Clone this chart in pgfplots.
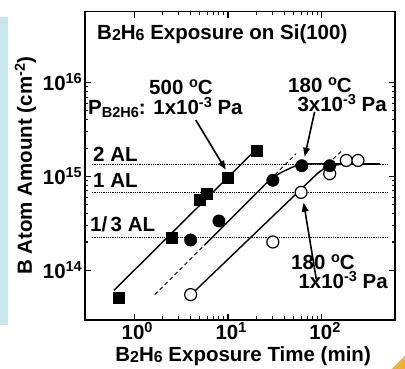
\documentclass[border=0pt]{standalone}
\usepackage{fontspec}
\setmainfont{Liberation Sans}
\usepackage{pgfplots}
\pgfplotsset{compat=1.18}
\usetikzlibrary{arrows.meta}
\newcommand{\bigf}{\fontsize{20.5}{24}\selectfont\bfseries}
\newcommand{\sups}[1]{\raisebox{7pt}{\fontsize{14.5}{14}\selectfont\bfseries #1}}
\newcommand{\subs}[1]{\raisebox{-1pt}{\fontsize{16}{15}\selectfont\bfseries #1}}
\newcommand{\psubs}[1]{\raisebox{-2.5pt}{\fontsize{14.5}{14}\selectfont\bfseries #1}}
\definecolor{stripblue}{RGB}{200,230,236}
\definecolor{cornerorange}{RGB}{245,176,49}
\begin{document}
\begin{tikzpicture}[font=\bigf]
\useasboundingbox (-85pt,-49pt) rectangle (320pt,320pt);
\fill[stripblue] (-85pt,-5pt) rectangle (-77pt,303pt);
\fill[cornerorange] (320pt,-36pt) -- (320pt,-49pt) -- (307pt,-49pt) -- cycle;
\begin{axis}[
  at={(0pt,0pt)}, anchor=south west,
  scale only axis, width=310pt, height=308.3pt,
  xmode=log, ymode=log,
  xmin=0.3, xmax=600, ymin=2.95e13, ymax=5.7e16,
  xtick={1,10,100}, xticklabels={10\sups{0},10\sups{1},10\sups{2}},
  ytick={1e14,1e15,1e16}, yticklabels={10\sups{14},10\sups{15},10\sups{16}},
  xtick pos=both, ytick pos=both,
  xticklabel pos=lower, yticklabel pos=left,
  tick align=inside,
  major tick length=6pt, minor tick length=3.5pt,
  every tick/.style={line width=1.1pt, black},
  axis line style={line width=1.5pt},
  tick label style={font=\bigf},
  xticklabel style={anchor=base, yshift=-20pt, xshift=3pt, inner sep=0pt},
  yticklabel style={anchor=base east, xshift=-3pt, yshift=-8pt, inner sep=0pt},
  label style={font=\bigf},
  xlabel={B\subs{2}H\subs{6} Exposure Time (min)},
  ylabel={B Atom Amount (cm\sups{-2})},
  xlabel style={at={(axis description cs:0.51,-0.136)}, anchor=base},
  ylabel style={at={(axis description cs:-0.171,0.5)}, anchor=base},
]
% monolayer reference lines
\addplot[black, line width=0.8pt, densely dotted] coordinates {(0.355,1.356e15) (500,1.356e15)};
\addplot[black, line width=0.8pt, densely dotted] coordinates {(0.355,6.78e14) (500,6.78e14)};
\addplot[black, line width=0.8pt, densely dotted] coordinates {(0.355,2.26e14) (500,2.26e14)};
% fit lines
\addplot[black, line width=1.4pt] coordinates {(0.61,6.1e13) (20,1.95e15)};
\addplot[black, line width=0.9pt, dash pattern=on 4pt off 3pt] coordinates {(1.66,5.5e13) (5.6,1.85e14)};
\addplot[black, line width=1.4pt] coordinates {(5.6,1.85e14) (28,9.24e14)};
\addplot[black, line width=1.4pt, smooth] coordinates {(28,9.24e14) (33,1.03e15) (38,1.12e15) (44,1.2e15) (50,1.27e15) (57,1.32e15) (65,1.35e15) (75,1.36e15) (100,1.36e15)};
\addplot[black, line width=1.4pt] coordinates {(100,1.36e15) (420,1.36e15)};
\addplot[black, line width=0.9pt, dash pattern=on 4pt off 3pt] coordinates {(28,9.24e14) (53,1.75e15)};
\addplot[black, line width=1.4pt] coordinates {(4.2,5.7e13) (90,1.08e15)};
\addplot[black, line width=1.4pt, smooth] coordinates {(90,1.08e15) (105,1.2e15) (120,1.27e15) (140,1.32e15) (165,1.35e15) (200,1.36e15) (240,1.36e15)};
\addplot[black, line width=0.9pt, dash pattern=on 4pt off 3pt] coordinates {(90,1.08e15) (160,1.84e15)};
% arrows
\draw[black, line width=1.6pt, -{Triangle[length=9pt,width=6.5pt]}] (axis cs:4.53,4.0e15) -- (axis cs:9.45,1.18e15);
\draw[black, line width=1.6pt, -{Triangle[length=9pt,width=6.5pt]}] (axis cs:83.6,4.88e15) -- (axis cs:65.5,1.62e15);
\draw[black, line width=1.6pt, -{Triangle[length=9pt,width=6.5pt]}] (axis cs:87.2,7.96e13) -- (axis cs:63.9,5.25e14);
% data
\addplot[only marks, mark=*, mark size=6pt, mark options={draw=black, fill=white, line width=1.2pt}] coordinates {
 (4.0,5.5e13) (30,2.0e14) (60,6.76e14) (121,1.07e15) (182,1.48e15) (242,1.48e15)};
\addplot[only marks, mark=*, mark size=6.2pt, mark options={draw=black, fill=black}] coordinates {
 (4.0,2.1e14) (8.0,3.35e14) (30,9.1e14) (61,1.3e15) (121,1.3e15)};
\addplot[only marks, mark=square*, mark size=5.5pt, mark options={draw=black, fill=black}] coordinates {
 (0.68,5.1e13) (2.5,2.2e14) (5.0,5.65e14) (6.0,6.5e14) (10,9.8e14) (20,1.9e15)};
\end{axis}
\node[anchor=base west, inner sep=0pt] at (12pt,280pt) {B\subs{2}H\subs{6} Exposure on Si(100)};
\node[anchor=base, inner sep=0pt] at (96pt,225pt) {500 \sups{o}C};
\node[anchor=base west, inner sep=0pt] at (3pt,205pt) {P\psubs{B2H6}: 1x10\sups{-3} Pa};
\node[anchor=base, inner sep=0pt] at (235pt,227pt) {180 \sups{o}C};
\node[anchor=base east, inner sep=0pt] at (302pt,208pt) {3x10\sups{-3} Pa};
\node[anchor=base, inner sep=0pt] at (238pt,50pt) {180 \sups{o}C};
\node[anchor=base east, inner sep=0pt] at (303pt,31pt) {1x10\sups{-3} Pa};
\node[anchor=base west, inner sep=0pt] at (8pt,158pt) {2 AL};
\node[anchor=base west, inner sep=0pt] at (8pt,132pt) {1 AL};
\node[anchor=base west, inner sep=0pt] at (5pt,88pt) {1/\,3 AL};
\end{tikzpicture}
\end{document}
